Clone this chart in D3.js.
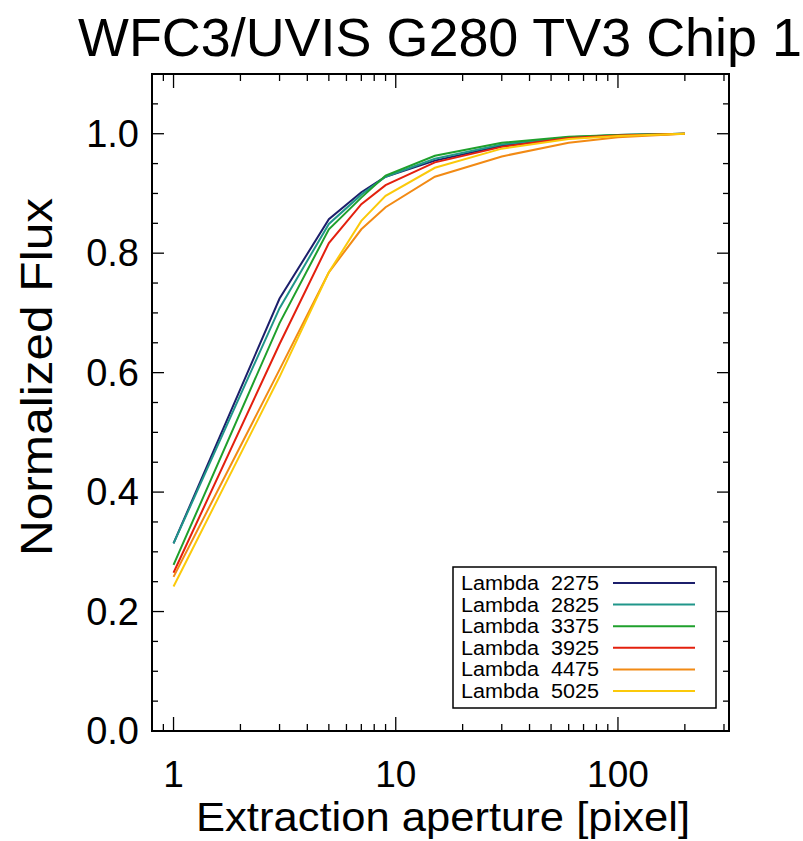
<!DOCTYPE html>
<html>
<head>
<meta charset="utf-8">
<script src="https://cdn.jsdelivr.net/npm/d3@7"></script>
<style>
  body { margin: 0; background: #fff; }
  svg { display: block; font-family: "Liberation Sans", Arial, Helvetica, sans-serif; }
</style>
</head>
<body>
<svg id="chart"></svg>
<script>
// aperture sizes (pixels) and normalized flux per wavelength
const apertures = [1, 3, 5, 7, 9, 15, 30, 60, 100, 200];
const wavelengths = [2275, 2825, 3375, 3925, 4475, 5025];
const flux2275 = [0.314, 0.724, 0.857, 0.902, 0.928, 0.955, 0.980, 0.993, 0.998, 1.0];
const flux2825 = [0.314, 0.708, 0.849, 0.898, 0.928, 0.958, 0.982, 0.994, 0.998, 1.0];
const flux3375 = [0.278, 0.683, 0.840, 0.893, 0.930, 0.963, 0.985, 0.995, 0.998, 1.0];
const flux3925 = [0.265, 0.648, 0.817, 0.882, 0.914, 0.952, 0.978, 0.993, 0.997, 1.0];
const flux4475 = [0.258, 0.605, 0.768, 0.840, 0.877, 0.928, 0.962, 0.985, 0.994, 1.0];
const flux5025 = [0.242, 0.593, 0.768, 0.854, 0.896, 0.943, 0.975, 0.991, 0.996, 1.0];
const colors = ['#1c1f6b', '#20968a', '#1fa02c', '#e3200e', '#f28a14', '#fbc90a'];
const xTickLabels = [1, 10, 100];
const yTickLabels = [0, 0.2, 0.4, 0.6, 0.8, 1.0];

const allFlux = [flux2275, flux2825, flux3375, flux3925, flux4475, flux5025];

const W = 803, H = 841;
const pLeft = 152, pRight = 729, pTop = 74, pBottom = 731;

const svg = d3.select('#chart')
  .attr('width', W)
  .attr('height', H)
  .attr('viewBox', [0, 0, W, H]);

const x = d3.scaleLog().domain([0.8, 316]).range([pLeft, pRight]);
const y = d3.scaleLinear().domain([0, 1.1]).range([pBottom, pTop]);

// title
svg.append('text')
  .attr('x', 78).attr('y', 56)
  .attr('font-size', 54)
  .attr('textLength', 724)
  .attr('lengthAdjust', 'spacingAndGlyphs')
  .text('WFC3/UVIS G280 TV3 Chip 1');

// minor/major ticks on all four sides
const xMinor = [];
[0.1, 1, 10, 100].forEach(d => { for (let k = 2; k <= 9; k++) { const v = d * k; if (v >= 0.8 && v <= 316) xMinor.push(v); } });
const yMinor = d3.range(0, 1.1001, 0.05).map(v => +v.toFixed(2));

const ticks = svg.append('g').attr('stroke', '#000').attr('stroke-width', 1.3);
xMinor.forEach(v => {
  ticks.append('line').attr('x1', x(v)).attr('x2', x(v)).attr('y1', pBottom).attr('y2', pBottom - 7);
  ticks.append('line').attr('x1', x(v)).attr('x2', x(v)).attr('y1', pTop).attr('y2', pTop + 7);
});
xTickLabels.forEach(v => {
  ticks.append('line').attr('x1', x(v)).attr('x2', x(v)).attr('y1', pBottom).attr('y2', pBottom - 14);
  ticks.append('line').attr('x1', x(v)).attr('x2', x(v)).attr('y1', pTop).attr('y2', pTop + 14);
});
yMinor.forEach(v => {
  const major = Math.abs(v * 5 - Math.round(v * 5)) < 1e-6;
  const len = major ? 12 : 6;
  ticks.append('line').attr('y1', y(v)).attr('y2', y(v)).attr('x1', pLeft).attr('x2', pLeft + len);
  ticks.append('line').attr('y1', y(v)).attr('y2', y(v)).attr('x1', pRight).attr('x2', pRight - len);
});

// frame
svg.append('rect')
  .attr('x', pLeft).attr('y', pTop)
  .attr('width', pRight - pLeft).attr('height', pBottom - pTop)
  .attr('fill', 'none').attr('stroke', '#000').attr('stroke-width', 2);

// tick labels
svg.append('g').selectAll('text')
  .data(xTickLabels).enter().append('text')
  .attr('x', d => x(d)).attr('y', 787)
  .attr('text-anchor', 'middle')
  .attr('font-size', 37)
  .text(d => d);

svg.append('g').selectAll('text')
  .data(yTickLabels).enter().append('text')
  .attr('x', 139).attr('y', d => y(d) + 13)
  .attr('text-anchor', 'end')
  .attr('font-size', 38)
  .text(d => d.toFixed(1));

// axis titles
svg.append('text')
  .attr('x', 196).attr('y', 831)
  .attr('font-size', 41)
  .attr('textLength', 494)
  .attr('lengthAdjust', 'spacingAndGlyphs')
  .text('Extraction aperture [pixel]');

svg.append('text')
  .attr('transform', 'translate(52,556) rotate(-90)')
  .attr('font-size', 45)
  .attr('textLength', 358)
  .attr('lengthAdjust', 'spacingAndGlyphs')
  .text('Normalized Flux');

// curves
const line = d3.line()
  .x((d, i) => x(apertures[i]))
  .y(d => y(d));

svg.append('g').selectAll('path')
  .data(allFlux).enter().append('path')
  .attr('d', line)
  .attr('fill', 'none')
  .attr('stroke', (d, i) => colors[i])
  .attr('stroke-width', 2);

// legend
const lg = svg.append('g');
lg.append('rect')
  .attr('x', 453).attr('y', 567).attr('width', 263).attr('height', 141)
  .attr('fill', '#fff').attr('stroke', '#000').attr('stroke-width', 1.5);
wavelengths.forEach((w, i) => {
  const cy = 583 + i * 21.6;
  lg.append('text')
    .attr('x', 461).attr('y', cy + 7)
    .attr('font-size', 20)
    .attr('textLength', 138)
    .attr('lengthAdjust', 'spacingAndGlyphs')
    .attr('xml:space', 'preserve')
    .style('white-space', 'pre')
    .text('Lambda  ' + w);
  lg.append('line')
    .attr('x1', 613).attr('x2', 695).attr('y1', cy).attr('y2', cy)
    .attr('stroke', colors[i]).attr('stroke-width', 2);
});
</script>
</body>
</html>
